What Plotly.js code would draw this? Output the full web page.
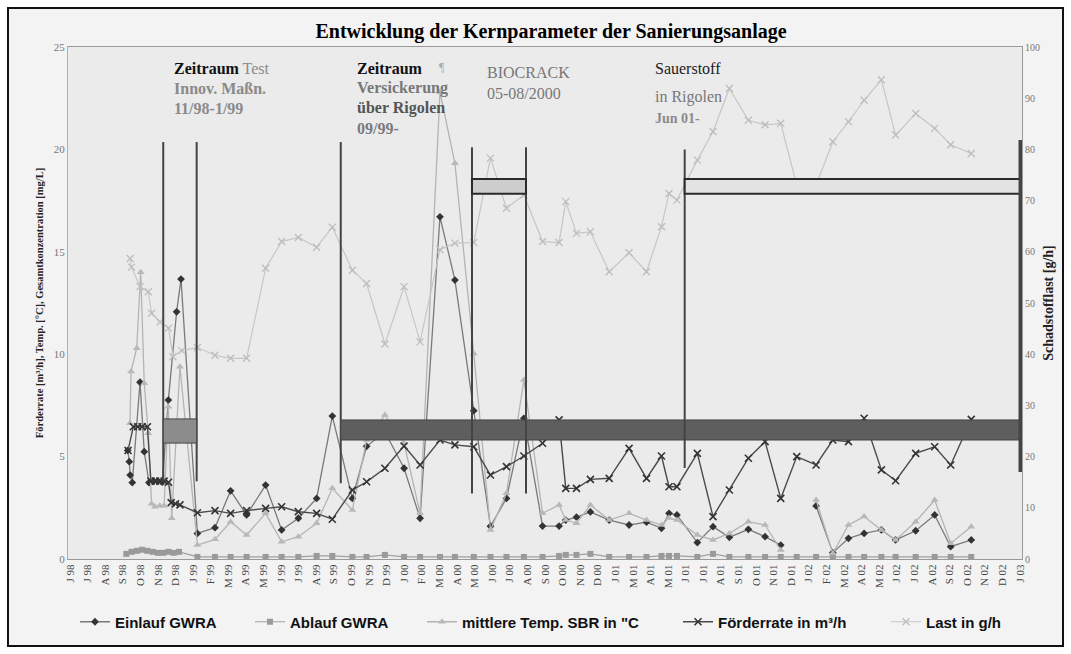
<!DOCTYPE html>
<html>
<head>
<meta charset="utf-8">
<script src="https://cdn.plot.ly/plotly-3.0.1.min.js"></script>
<style>
  html, body { margin: 0; padding: 0; background: #ffffff; }
  #chart { width: 1071px; height: 654px; }
</style>
</head>
<body>
<div id="chart"></div>
<script>
// ---------- category labels (monthly) ----------
const monthLabels = ["J 98","J 98","A 98","S 98","O 98","N 98","D 98","J 99","F 99","M 99","A 99","M 99",
  "J 99","J 99","A 99","S 99","O 99","N 99","D 99","J 00","F 00","M 00","A 00","M 00","J 00","J 00","A 00",
  "S 00","O 00","N 00","D 00","J 01","M 01","A 01","M 01","J 01","J 01","A 01","S 01","O 01","N 01","D 01",
  "J 02","F 02","M 02","A 02","M 02","J 02","J 02","A 02","S 02","O 02","N 02","D 02","J 03"];

// ---------- early (1998) samples, per series: position in month index ----------
const einlaufEarlyPos = [3.28, 3.37, 3.42, 3.54, 3.98, 4.22, 4.49, 4.75, 5.0, 5.25, 5.59, 6.06, 6.31];
const einlaufEarly    = [5.3, 4.75, 4.1, 3.73, 8.63, 5.24, 3.73, 3.8, 3.8, 3.75, 7.76, 12.07, 13.67];
const tempEarlyPos    = [3.41, 3.47, 3.79, 4.02, 4.22, 4.45, 4.64, 4.83, 5.1, 5.35, 5.59, 5.78, 6.25];
const tempEarly       = [6.63, 9.15, 10.29, 14.0, 8.58, 6.14, 2.7, 2.55, 2.6, 2.6, 7.44, 1.99, 9.39];
const foerderEarlyPos = [3.3, 3.6, 3.85, 4.1, 4.4, 4.6, 4.85, 5.1, 5.35, 5.6, 5.75, 6.0, 6.25];
const foerderEarly    = [5.3, 6.46, 6.46, 6.46, 6.46, 3.8, 3.8, 3.8, 3.8, 3.75, 2.75, 2.7, 2.64];
const lastEarlyPos    = [3.42, 3.5, 3.98, 4.45, 4.64, 5.12, 5.6, 5.85, 6.35];
const lastEarly       = [58.7, 57.0, 53.2, 52.2, 48.0, 46.3, 45.1, 39.5, 40.7];
const ablaufEarlyPos  = [3.2, 3.5, 3.8, 4.1, 4.4, 4.7, 5.0, 5.3, 5.6, 5.9, 6.2];
const ablaufEarly     = [0.25, 0.35, 0.4, 0.45, 0.4, 0.35, 0.3, 0.3, 0.35, 0.3, 0.35];

// ---------- regular samples from 1999 on (shared positions) ----------
const samplePos = [7.24, 8.24, 9.13, 10.04, 11.12, 12.03, 12.98, 14.02, 14.91, 16.05, 16.86, 17.9, 18.99, 19.9,
  21.03, 21.88, 22.95, 23.9, 24.81, 25.8, 26.86, 27.8, 28.18, 28.79, 29.58, 30.65, 31.78, 32.77, 33.62, 34.05,
  34.5, 35.66, 36.55, 37.48, 38.56, 39.51, 40.4, 41.31, 42.41, 43.36, 44.25, 45.14, 46.12, 46.93, 48.07, 49.15,
  50.06, 51.23];
const einlauf = [1.25, 1.53, 3.33, 2.15, 3.61, 1.42, 1.99, 2.96, 6.98, 2.96, 5.5, 6.2, 4.43, 1.99,
  16.71, 13.62, 7.24, 1.6, 2.96, 6.87, 1.61, 1.61, 1.9, 2.04, 2.3, 1.9, 1.66, 1.8, 1.5, 2.23,
  2.15, 0.8, 1.58, 1.06, 1.45, 1.09, 0.68, null, 2.59, 0.31, 1.01, 1.25, 1.42, 0.93, 1.38, 2.15,
  0.6, 0.93];
const ablauf = [0.1, 0.1, 0.1, 0.1, 0.1, 0.1, 0.1, 0.15, 0.15, 0.1, 0.1, 0.2, 0.1, 0.1,
  0.1, 0.1, 0.1, 0.1, 0.1, 0.1, 0.1, 0.15, 0.2, 0.2, 0.25, 0.1, 0.1, 0.1, 0.15, 0.15,
  0.15, 0.1, 0.25, 0.1, 0.1, 0.1, 0.1, 0.1, 0.1, 0.1, 0.1, 0.1, 0.1, 0.1, 0.1, 0.1,
  0.1, 0.1];
const tempSBR = [0.68, 0.96, 1.82, 1.17, 2.23, 0.84, 1.09, 1.74, 3.45, 2.39, 5.81, 7.03, 5.65, 2.23,
  22.8, 19.32, 10.04, 1.42, 3.21, 8.74, 2.23, 2.64, 1.9, 1.74, 2.64, 1.9, 2.23, 1.9, 1.66, 2.0,
  1.9, 1.17, 0.93, 1.25, 1.82, 1.66, 0.44, null, 2.88, 0.28, 1.66, 2.07, 1.42, 0.93, 1.82, 2.88,
  0.77, 1.58];
const foerderrate = [2.26, 2.36, 2.23, 2.36, 2.47, 2.55, 2.31, 2.23, 1.94, 3.37, 3.77, 4.43, 5.52, 4.59,
  5.81, 5.57, 5.48, 4.1, 4.51, 5.03, 5.65, 6.79, 3.45, 3.45, 3.89, 3.94, 5.4, 3.94, 5.03, 3.53,
  3.53, 5.16, 2.07, 3.37, 4.92, 5.73, 2.96, 5.0, 4.59, 5.81, 5.73, 6.87, 4.35, 3.82, 5.16, 5.48,
  4.59, 6.82];
const last = [41.3, 39.8, 39.2, 39.2, 56.8, 62.0, 62.8, 60.9, 64.8, 56.4, 53.8, 42.0, 53.2, 42.4,
  60.4, 61.7, 61.8, 78.3, 68.5, 71.1, 62.0, 61.8, 69.8, 63.6, 63.9, 56.1, 59.8, 56.1, 64.9, 71.4,
  70.1, 77.9, 83.5, 91.9, 85.7, 84.8, 85.1, 73.0, 73.0, 81.5, 85.4, 89.6, 93.6, 82.8, 87.0, 84.1,
  80.9, 79.2];

// ---------- measure periods (month index) and marker bars (mg/L scale) ----------
const periodTest = [5.3, 7.2];
const periodVersickerung = [15.39, 54.0];
const periodBiocrack = [22.85, 25.92];
const periodSauerstoff = [34.94, 54.0];
const barTest = [5.66, 6.84];
const barVersickerung = [5.81, 6.79];
const barUpper = [17.84, 18.55];

// ---------- helpers for pixel -> paper placement of decorations ----------
const L = 68, R = 1022, T = 47, B = 559;
const px = v => (v - L) / (R - L);
const py = v => (B - v) / (B - T);

const serif = "Liberation Serif, Times New Roman, serif";
const sans = "Liberation Sans, Arial, sans-serif";

function series(name, xs, ys, opts) {
  return Object.assign({ type: "scatter", mode: "lines+markers", name: name, x: xs, y: ys,
    connectgaps: false, hoverinfo: "skip" }, opts);
}

const traces = [
  series("Einlauf GWRA", einlaufEarlyPos.concat(samplePos), einlaufEarly.concat(einlauf), {
    line: { color: "#7a7a7a", width: 1.3 },
    marker: { symbol: "diamond", size: 6, color: "#333333" }, legend: "legend" }),
  series("Ablauf GWRA", ablaufEarlyPos.concat(samplePos), ablaufEarly.concat(ablauf), {
    line: { color: "#a0a0a0", width: 1.2 },
    marker: { symbol: "square", size: 6, color: "#9a9a9a" }, legend: "legend2" }),
  series('mittlere Temp. SBR in "C', tempEarlyPos.concat(samplePos), tempEarly.concat(tempSBR), {
    line: { color: "#b4b4b4", width: 1.3 },
    marker: { symbol: "triangle-up", size: 7, color: "#b8b8b8" }, legend: "legend3" }),
  series("Förderrate in m³/h", foerderEarlyPos.concat(samplePos), foerderEarly.concat(foerderrate), {
    line: { color: "#4a4a4a", width: 1.4 },
    marker: { symbol: "x-thin-open", size: 7, color: "#333333", line: { width: 1.6, color: "#333333" } },
    legend: "legend4" }),
  series("Last in g/h", lastEarlyPos.concat(samplePos), lastEarly.concat(last), {
    yaxis: "y2",
    line: { color: "#c6c6c6", width: 1.2 },
    marker: { symbol: "x-thin-open", size: 7, color: "#bdbdbd", line: { width: 1.3, color: "#bdbdbd" } },
    legend: "legend5" })
];

const dark = "#444444";
function vline(x, y0, y1, w) {
  return { type: "line", xref: "x", yref: "y", x0: x, x1: x, y0: y0, y1: y1, layer: "above",
    line: { color: dark, width: w || 2 } };
}
function box(xr, yr, fill, lw, lc) {
  return { type: "rect", xref: "x", yref: "y", x0: xr[0], x1: xr[1], y0: yr[0], y1: yr[1], layer: "above",
    fillcolor: fill, line: { color: lc || dark, width: lw } };
}

const shapes = [
  vline(periodTest[0], 3.8, 20.36), vline(periodTest[1], 3.8, 20.36),
  box(periodTest, barTest, "#8c8c8c", 1),
  vline(periodVersickerung[0], 3.7, 20.36),
  box(periodVersickerung, barVersickerung, "#5e5e5e", 1),
  vline(periodBiocrack[0], 3.2, 20.1), vline(periodBiocrack[1], 3.2, 20.1),
  box(periodBiocrack, barUpper, "#cdcdcd", 2, "#2a2a2a"),
  vline(periodSauerstoff[0], 4.44, 20.0),
  box(periodSauerstoff, barUpper, "#e3e3e3", 2, "#2a2a2a"),
  vline(54.03, 4.25, 20.46, 4),
  { type: "rect", xref: "paper", yref: "paper", x0: px(0), x1: px(1071), y0: py(654), y1: py(0),
    layer: "above", line: { color: "#ffffff", width: 16 } },
  { type: "rect", xref: "paper", yref: "paper", x0: px(8), x1: px(1063), y0: py(646), y1: py(8),
    layer: "above", line: { color: "#111111", width: 2 } }
];

function note(x, y, text, color, size) {
  return { xref: "paper", yref: "paper", x: px(x), y: py(y), xanchor: "left", yanchor: "middle",
    text: text, showarrow: false, font: { family: serif, size: size || 16, color: color } };
}
const annotations = [
  note(172, 68, '<b>Zeitraum</b> <span style="color:#8a8a8a">Test</span>', "#111111"),
  note(172, 88, "<b>Innov. Maßn.</b>", "#8a8a8a"),
  note(172, 108, "<b>11/98-1/99</b>", "#8a8a8a"),
  note(355, 68, "<b>Zeitraum</b>", "#111111"),
  note(355, 88, "<b>Versickerung</b>", "#777777"),
  note(355, 108, "<b>über Rigolen</b>", "#555555"),
  note(355, 128, "<b>09/99-</b>", "#7a7a7a"),
  note(437, 67, "¶", "#aaaaaa", 12),
  note(485, 72, "BIOCRACK", "#777777"),
  note(485, 93, "05-08/2000", "#777777"),
  note(653, 68, "Sauerstoff", "#222222"),
  note(653, 97, "in Rigolen", "#777777"),
  note(653, 118, "<b>Jun 01-</b>", "#8a8a8a", 14)
];

function legendAt(textLeft) {
  return { x: px(textLeft - 40), y: py(622), xanchor: "left", yanchor: "middle", orientation: "h",
    bgcolor: "rgba(0,0,0,0)", borderwidth: 0,
    font: { family: sans, size: 15, color: "#111111", weight: 700 } };
}

const layout = {
  width: 1071, height: 654,
  margin: { l: L, r: 1071 - R, t: T, b: 654 - B, pad: 0 },
  paper_bgcolor: "#f3f3f3",
  plot_bgcolor: "#ebebeb",
  title: { text: "<b>Entwicklung der Kernparameter der Sanierungsanlage</b>",
    font: { family: serif, size: 20, color: "#000000" },
    x: 551 / 1071, xref: "container", xanchor: "center", y: 1 - 31 / 654, yanchor: "middle" },
  showlegend: true,
  legend: legendAt(115),
  legend2: legendAt(290),
  legend3: legendAt(462),
  legend4: legendAt(718),
  legend5: legendAt(926),
  xaxis: {
    range: [-2 / 17.593, 54 + 2 / 17.593],
    tickmode: "array",
    tickvals: monthLabels.map((_, i) => i),
    ticktext: monthLabels,
    tickangle: -90,
    tickfont: { family: serif, size: 11, color: "#444444" },
    ticks: "", showgrid: false, zeroline: false,
    showline: true, linecolor: "#9a9a9a", linewidth: 1, mirror: true
  },
  yaxis: {
    range: [0, 25], tickvals: [0, 5, 10, 15, 20, 25],
    tickfont: { family: serif, size: 11, color: "#777777" },
    ticks: "", showgrid: false, zeroline: false,
    showline: true, linecolor: "#b0b0b0", linewidth: 1,
    title: { text: "<b>Förderrate [m³/h], Temp. [°C], Gesamtkonzentration [mg/L]</b>",
      font: { family: serif, size: 10.5, color: "#222222" }, standoff: 8 }
  },
  yaxis2: {
    overlaying: "y", side: "right",
    range: [0, 100], tickvals: [0, 10, 20, 30, 40, 50, 60, 70, 80, 90, 100],
    tickfont: { family: serif, size: 10, color: "#777777" },
    ticks: "", showgrid: false, zeroline: false,
    showline: true, linecolor: "#9a9a9a", linewidth: 1,
    title: { text: "<b>Schadstofflast [g/h]</b>",
      font: { family: serif, size: 14, color: "#222222" }, standoff: 4 }
  },
  shapes: shapes,
  annotations: annotations
};

Plotly.newPlot("chart", traces, layout, { staticPlot: true, displayModeBar: false });
</script>
</body>
</html>
